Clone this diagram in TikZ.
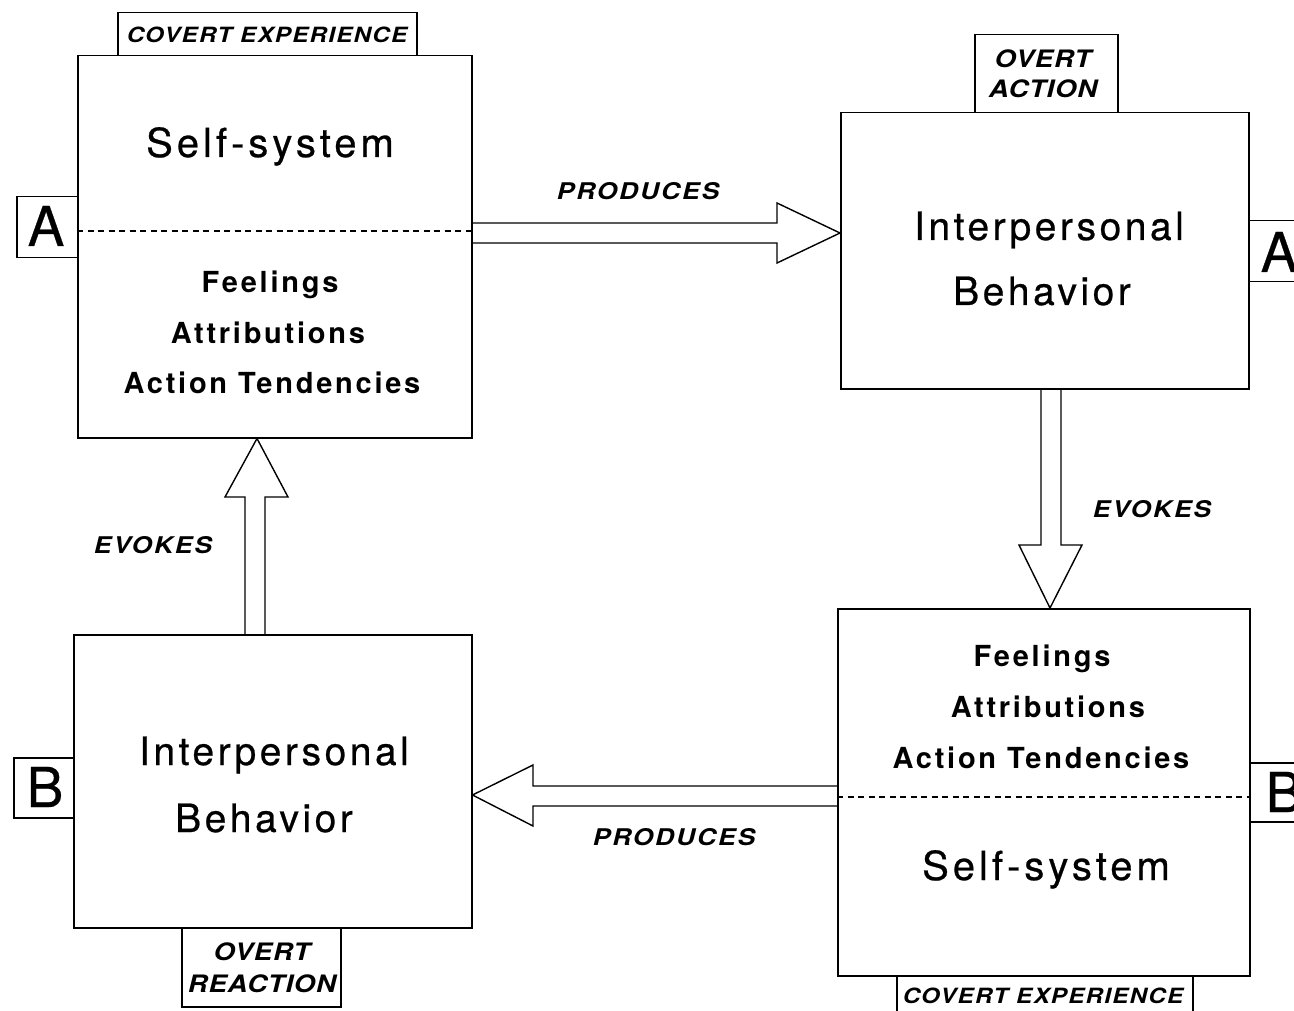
\documentclass[tikz,border=0pt]{standalone}
\usepackage{fontspec}
\setmainfont{TeX Gyre Heros}
\newfontfamily\bigfont[LetterSpace=9,FakeBold=0.6]{TeX Gyre Heros}
\newfontfamily\selffont[LetterSpace=10,FakeBold=0.6]{TeX Gyre Heros}
\newfontfamily\midfont[LetterSpace=9.5]{TeX Gyre Heros}
\newfontfamily\lblfont[LetterSpace=8,FakeStretch=1.15]{TeX Gyre Heros}
\newfontfamily\tagfont[LetterSpace=6,FakeStretch=1.15]{TeX Gyre Heros}
\newfontfamily\tagfontb[LetterSpace=3,FakeStretch=1.15]{TeX Gyre Heros}
\newfontfamily\letfont[FakeBold=0.5]{TeX Gyre Heros}
\begin{document}
\begin{tikzpicture}[x=1pt,y=-1pt,
  line width=1.5pt,
  box/.style={draw,rectangle,inner sep=0pt,anchor=north west},
  bigtxt/.style={anchor=base,inner sep=0pt,font=\bigfont\fontsize{39}{44}\selectfont},
  selftxt/.style={anchor=base,inner sep=0pt,font=\selffont\fontsize{40}{44}\selectfont},
  midtxt/.style={anchor=base,inner sep=0pt,font=\midfont\bfseries\fontsize{29}{32}\selectfont},
  proc/.style={anchor=base,inner sep=0pt,font=\lblfont\bfseries\itshape\fontsize{23}{26}\selectfont},
  tagtxt/.style={anchor=base,inner sep=0pt,font=\tagfont\bfseries\itshape\fontsize{21}{24}\selectfont},
  tagtxtb/.style={anchor=base,inner sep=0pt,font=\tagfontb\bfseries\itshape\fontsize{24}{27}\selectfont},
  lettxt/.style={anchor=base,inner sep=0pt,font=\letfont\fontsize{55}{60}\selectfont},
  sep/.style={dashed,dash pattern=on 6pt off 4.5pt,line width=1.3pt},
  blockarrow/.style={line width=1.4pt,line join=miter}
]
\useasboundingbox (0,0) rectangle (1294,1011);
\clip (0,0) rectangle (1294,1011);

% main boxes
\node[box,minimum width=394pt,minimum height=382pt] (ss1) at (77,55) {};
\node[box,minimum width=408pt,minimum height=276pt] (ib1) at (840,112) {};
\node[box,minimum width=398pt,minimum height=293pt] (ib2) at (73,634) {};
\node[box,minimum width=412pt,minimum height=367pt] (ss2) at (837,608) {};

% tag boxes
\node[box,minimum width=299pt,minimum height=43pt] (cov1) at (117,12) {};
\node[box,minimum width=143pt,minimum height=78pt] (ova) at (974,34) {};
\node[box,minimum width=159pt,minimum height=79pt] (ovr) at (181,927) {};
\node[box,minimum width=296pt,minimum height=60pt] (cov2) at (896,975) {};

% letter boxes
\node[box,minimum width=61pt,minimum height=61pt] (a1) at (16,196) {};
\node[box,minimum width=80pt,minimum height=61pt] (a2) at (1248,220) {};
\node[box,minimum width=60pt,minimum height=60pt] (b1) at (13,757) {};
\node[box,minimum width=80pt,minimum height=59pt] (b2) at (1249,762) {};

% dashed separators
\draw[sep] (ss1.west |- 0,231) -- (ss1.east |- 0,231);
\draw[sep] (ss2.west |- 0,797) -- (ss2.east |- 0,797);

% box texts
\node[selftxt] (t1) at (270,157) {Self-system};
\node[midtxt] (t2) at (270,293) {Feelings};
\node[midtxt] (t3) at (268,343) {Attributions};
\node[midtxt] (t4) at (272,393) {Action Tendencies};

\node[bigtxt] (t5) at (1049,240) {Interpersonal};
\node[bigtxt] (t6) at (1042,305) {Behavior};

\node[bigtxt] (t7) at (274,765) {Interpersonal};
\node[bigtxt] (t8) at (264,832) {Behavior};

\node[midtxt] (t9) at (1042,666) {Feelings};
\node[midtxt] (t10) at (1048,717) {Attributions};
\node[midtxt] (t11) at (1041,768) {Action Tendencies};
\node[selftxt] (t12) at (1046,880) {Self-system};

% tag texts
\node[tagtxt] (g1) at (267,43) {COVERT EXPERIENCE};
\node[tagtxtb] (g2) at (1043,68) {OVERT};
\node[tagtxtb] (g3) at (1043,98) {ACTION};
\node[tagtxtb] (g4) at (262,960) {OVERT};
\node[tagtxtb] (g5) at (262,992) {REACTION};
\node[tagtxt] (g6) at (1043,1003) {COVERT EXPERIENCE};

% letters
\node[lettxt] (la1) at (46,246) {A};
\node[lettxt] (la2) at (1279,272) {A};
\node[lettxt] (lb1) at (45,807) {B};
\node[lettxt] (lb2) at (1284,812) {B};

% block arrows
\draw[blockarrow] (ss1.east |- 0,223) -- (777,223) -- (777,203) -- (ib1.west |- 0,233) -- (777,263) -- (777,243) -- (ss1.east |- 0,243);
\draw[blockarrow] (ib2.north -| 245,0) -- (245,497) -- (225,497) -- (ss1.south -| 257,0) -- (288,497) -- (265,497) -- (ib2.north -| 265,0);
\draw[blockarrow] (ib1.south -| 1041,0) -- (1041,545) -- (1019,545) -- (ss2.north -| 1050,0) -- (1082,545) -- (1061,545) -- (ib1.south -| 1061,0);
\draw[blockarrow] (ss2.west |- 0,786) -- (533,786) -- (533,765) -- (ib2.east |- 0,795) -- (533,826) -- (533,806) -- (ss2.west |- 0,806);

% arrow labels
\node[proc] (l1) at (638,200) {PRODUCES};
\node[proc] (l2) at (674,845) {PRODUCES};
\node[proc] (l3) at (1152,517) {EVOKES};
\node[proc] (l4) at (153,553) {EVOKES};
\end{tikzpicture}
\end{document}
